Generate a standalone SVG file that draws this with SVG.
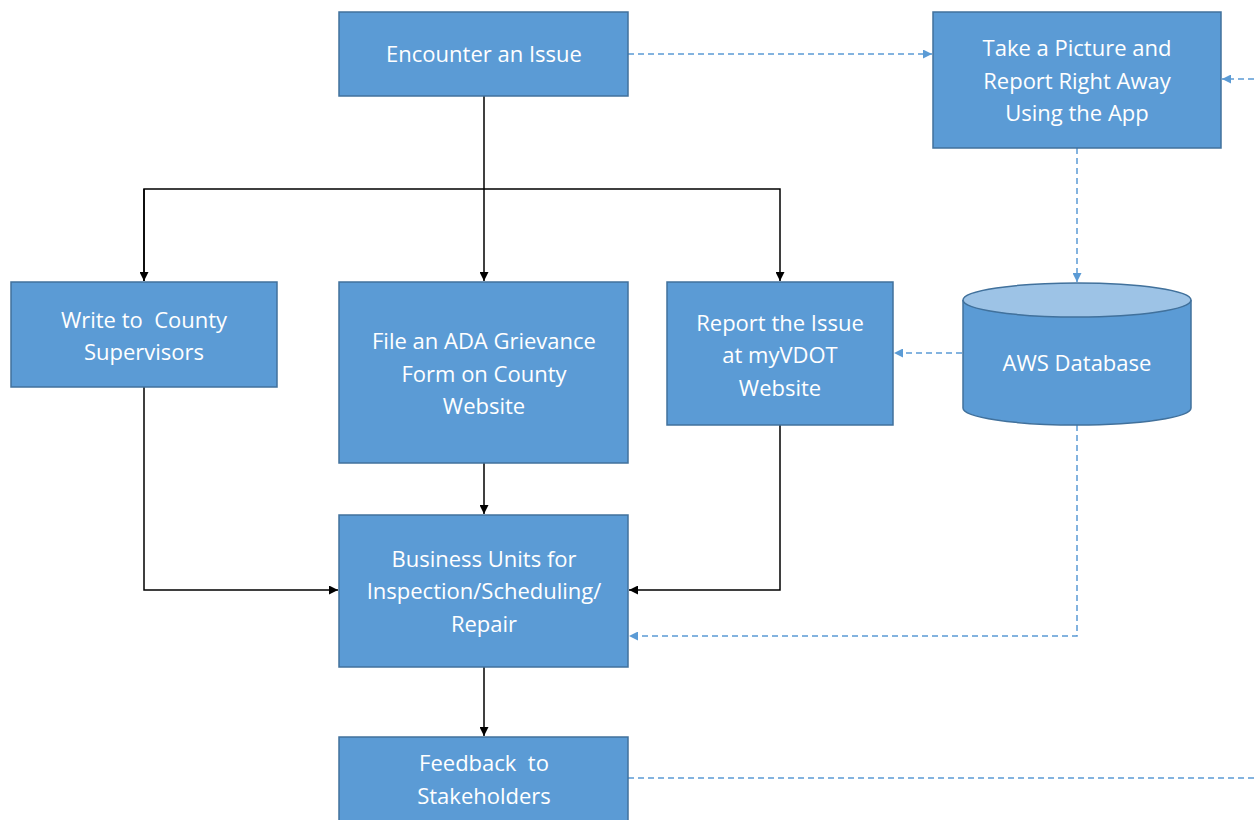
<svg xmlns="http://www.w3.org/2000/svg" width="1254" height="820" viewBox="0 0 1254 820">
<style>
.box{fill:#5B9BD5;stroke:#41719C;stroke-width:1.5}
.t{fill:#fff;font-family:"Open Sans","Liberation Sans",sans-serif;font-size:22px;text-anchor:middle;white-space:pre}
.s{fill:none;stroke:#000;stroke-width:1.5}
.d{fill:none;stroke:#5B9BD5;stroke-width:1.5;stroke-dasharray:6 4}
</style>
<defs>
<marker id="ab" viewBox="0 0 10 10" refX="10" refY="5" markerWidth="9" markerHeight="9" markerUnits="userSpaceOnUse" orient="auto"><path d="M0,0L10,5L0,10z" fill="#000"/></marker>
<marker id="abl" viewBox="0 0 10 10" refX="10" refY="5" markerWidth="9" markerHeight="9" markerUnits="userSpaceOnUse" orient="auto"><path d="M0,0L10,5L0,10z" fill="#5B9BD5"/></marker>
</defs>
<g id="connectors">
<path class="s" d="M484,96V281" marker-end="url(#ab)"/>
<path class="s" d="M144,281V189H780V281" marker-end="url(#ab)"/>
<path class="s" d="M144,189V281" marker-end="url(#ab)"/>
<path class="s" d="M144,387V590H338" marker-end="url(#ab)"/>
<path class="s" d="M484,463V514" marker-end="url(#ab)"/>
<path class="s" d="M780,425V590H629" marker-end="url(#ab)"/>
<path class="s" d="M484,667V736" marker-end="url(#ab)"/>
<path class="d" d="M628,54H932" marker-end="url(#abl)"/>
<path class="d" d="M1254,79H1222" marker-end="url(#abl)"/>
<path class="d" d="M1077,148V282" marker-end="url(#abl)"/>
<path class="d" d="M962,353H894" marker-end="url(#abl)"/>
<path class="d" d="M1077,425V636H629" marker-end="url(#abl)"/>
<path class="d" d="M628,778H1254"/>
</g>
<g id="encounter"><rect class="box" x="339" y="12" width="289" height="84"/><text class="t" x="484" y="62">Encounter an Issue</text></g>
<g id="take-picture"><rect class="box" x="933" y="12" width="288" height="136"/><text class="t" x="1077" y="56">Take a Picture and</text><text class="t" x="1077" y="89">Report Right Away</text><text class="t" x="1077" y="121">Using the App</text></g>
<g id="write-county"><rect class="box" x="11" y="282" width="266" height="105"/><text class="t" x="144" y="328">Write to  County</text><text class="t" x="144" y="360">Supervisors</text></g>
<g id="file-ada"><rect class="box" x="339" y="282" width="289" height="181"/><text class="t" x="484" y="349">File an ADA Grievance</text><text class="t" x="484" y="382">Form on County</text><text class="t" x="484" y="414">Website</text></g>
<g id="report-myvdot"><rect class="box" x="667" y="282" width="226" height="143"/><text class="t" x="780" y="331">Report the Issue</text><text class="t" x="780" y="363">at myVDOT</text><text class="t" x="780" y="396">Website</text></g>
<g id="aws-db"><path class="box" d="M963,300V408A114,17 0 0 0 1191,408V300"/><ellipse cx="1077" cy="300" rx="114" ry="17" fill="#9DC3E6" stroke="#41719C" stroke-width="1.5"/><text class="t" x="1077" y="371">AWS Database</text></g>
<g id="business-units"><rect class="box" x="339" y="515" width="289" height="152"/><text class="t" x="484" y="567">Business Units for</text><text class="t" x="484" y="599">Inspection/Scheduling/</text><text class="t" x="484" y="632">Repair</text></g>
<g id="feedback"><rect class="box" x="339" y="737" width="289" height="90"/><text class="t" x="484" y="771">Feedback  to</text><text class="t" x="484" y="804">Stakeholders</text></g>
</svg>
